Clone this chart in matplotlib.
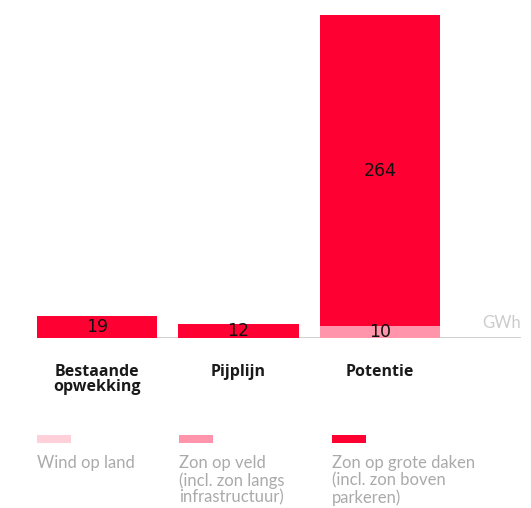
import matplotlib.pyplot as plt
from matplotlib.patches import Rectangle

# data
categories = ['Bestaande\nopwekking', 'Pijplijn', 'Potentie']
wind_op_land = [0, 0, 0]
zon_op_veld = [0, 0, 10]
zon_op_daken = [19, 12, 264]
series_labels = ['Wind op land',
                 'Zon op veld\n(incl. zon langs\ninfrastructuur)',
                 'Zon op grote daken\n(incl. zon boven\nparkeren)']
series_colors = ['#ffd0da', '#ff94aa', '#ff0033']
unit = 'GWh'

W, H = 531, 508
fig = plt.figure(figsize=(W / 100, H / 100), dpi=100)
ax = fig.add_axes([37 / W, (H - 338) / H, 484 / W, 323 / H])

x = range(len(categories))
bottom = [0] * len(categories)
for vals, col in zip([wind_op_land, zon_op_veld, zon_op_daken], series_colors):
    ax.bar(x, vals, width=0.85, bottom=bottom, color=col, linewidth=0)
    for i, v in enumerate(vals):
        if v > 0:
            ax.text(i, bottom[i] + v / 2, str(v), ha='center', va='center',
                    fontsize=12.5, color='#111111')
    bottom = [b + v for b, v in zip(bottom, vals)]

ax.set_xlim(-0.424, 2.997)
ax.set_ylim(0, 274)
ax.axhline(0, color='#c8c8c8', linewidth=1.2, zorder=0)
for s in ax.spines.values():
    s.set_visible(False)
ax.set_xticks([])
ax.set_yticks([])
ax.patch.set_alpha(0)

ax.annotate(unit, xy=(1, 0), xycoords='axes fraction', xytext=(0, 5),
            textcoords='offset points', ha='right', va='bottom',
            color='#cccccc', fontsize=12, family='Lato')

for i, c in enumerate(categories):
    ax.annotate(c, xy=(i, 0), xycoords=ax.get_xaxis_transform(),
                xytext=(0, -19), textcoords='offset points', ha='center',
                va='top', fontsize=11.5, fontweight='bold', family='Open Sans',
                linespacing=0.92, color='#1a1a1a')

# legend
leg_x = [37, 179, 332]
for lx, lab, col in zip(leg_x, series_labels, series_colors):
    fig.add_artist(Rectangle((lx / W, (H - 443) / H), 34 / W, 8 / H,
                             transform=fig.transFigure, color=col, linewidth=0))
    fig.text(lx / W, (H - 455) / H, lab, ha='left', va='top', fontsize=12,
             family='Lato', color='#aaaaaa', linespacing=1.08)

fig.savefig('out.png', dpi=100)
